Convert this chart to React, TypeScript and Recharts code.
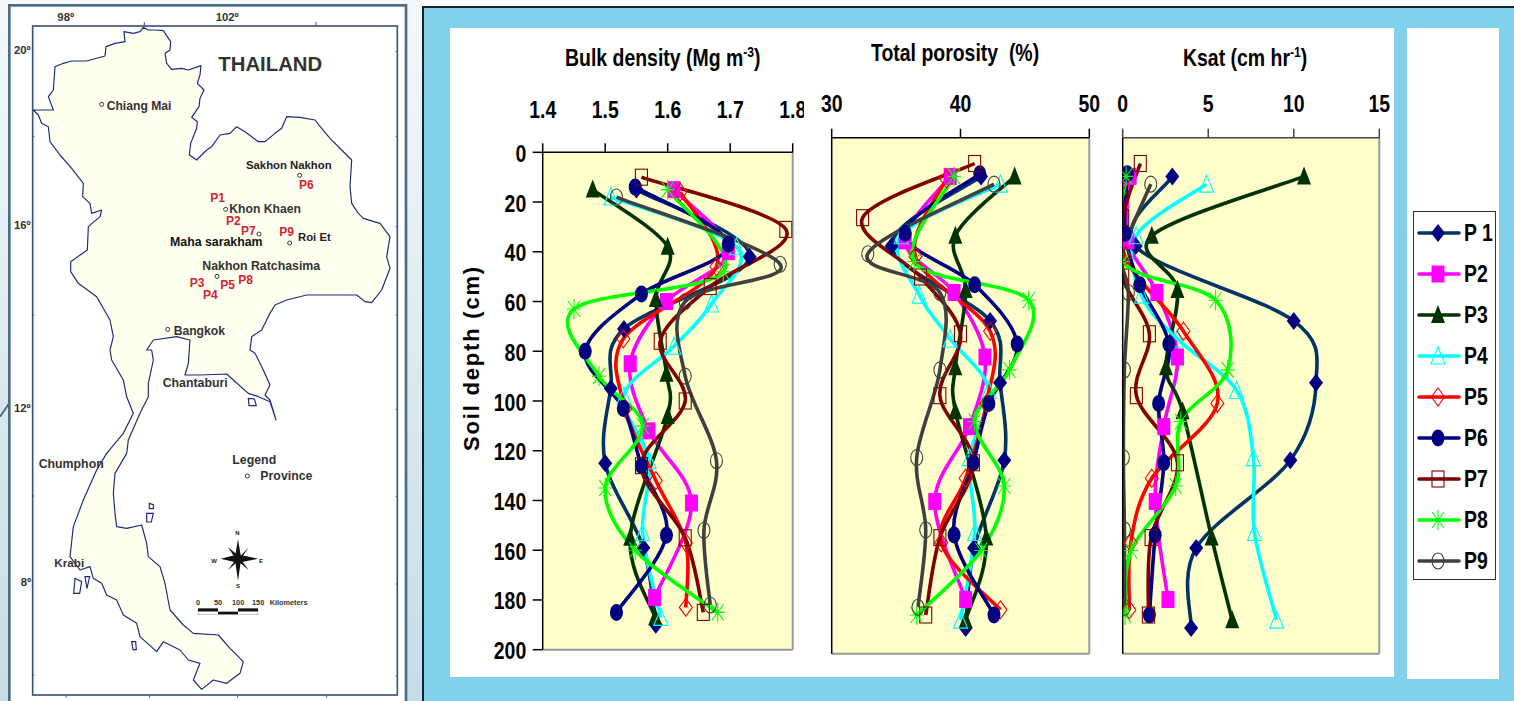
import React from "react";
import { LineChart, Line, XAxis, YAxis, CartesianGrid, ReferenceLine } from "recharts";

// ---------- data ----------
const seriesNames = ["P 1", "P2", "P3", "P4", "P5", "P6", "P7", "P8", "P9"];
const seriesColors = ["#003366", "#FF00FF", "#003300", "#00FFFF", "#FF0000", "#000080", "#800000", "#00FF00", "#404040"];

const depthP1 = [15, 42, 71, 95, 125, 159, 190];
const depthP2 = [15, 40, 60, 85, 112, 141, 179];
const depthP3 = [15, 38, 59, 89, 106, 155, 187];
const depthP4 = [18, 38, 61, 78, 98, 124, 153, 187];
const depthP5 = [16, 46, 75, 103, 132, 157, 183];
const depthP6 = [14, 37, 57, 80, 103, 126, 154, 185];
const depthP7 = [10, 31, 54, 76, 100, 126, 155, 185];
const depthP8 = [15, 48, 63, 90, 110, 135, 160, 185];
const depthP9 = [18, 45, 60, 90, 124, 152, 182];
const depths = [depthP1, depthP2, depthP3, depthP4, depthP5, depthP6, depthP7, depthP8, depthP9];

const bulkDensity = [
  [1.55, 1.731, 1.53, 1.509, 1.5, 1.561, 1.581],
  [1.61, 1.697, 1.598, 1.54, 1.57, 1.638, 1.579],
  [1.48, 1.6, 1.581, 1.598, 1.6, 1.54, 1.58],
  [1.509, 1.71, 1.67, 1.61, 1.53, 1.57, 1.56, 1.589],
  [1.62, 1.678, 1.529, 1.532, 1.581, 1.629, 1.629],
  [1.548, 1.697, 1.558, 1.468, 1.529, 1.558, 1.598, 1.518],
  [1.558, 1.789, 1.668, 1.588, 1.628, 1.558, 1.628, 1.657],
  [1.6, 1.689, 1.45, 1.49, 1.56, 1.5, 1.548, 1.68],
  [1.518, 1.78, 1.628, 1.628, 1.678, 1.658, 1.668],
];
const totalPorosity = [
  [41.6, 34.66, 42.3, 43.07, 43.4, 41.05, 40.4],
  [39.2, 35.7, 39.5, 41.9, 40.7, 38.0, 40.4],
  [44.2, 39.6, 40.4, 39.6, 39.6, 42, 40.4],
  [43.1, 35.4, 36.8, 39.2, 42.2, 40.7, 41.1, 40],
  [38.9, 36.5, 42.3, 42, 40.4, 38.5, 43.1],
  [41.5, 35.7, 41.1, 44.4, 42.2, 41, 39.5, 42.6],
  [41.1, 32.4, 36.9, 40, 38.4, 41, 38.4, 37.3],
  [39.5, 36.4, 45.3, 43.8, 41.1, 43.4, 41.6, 36.6],
  [42.6, 32.8, 38.4, 38.4, 36.6, 37.3, 36.7],
];
const ksat = [
  [2.9, 0.76, 10, 11.3, 9.8, 4.3, 4.0],
  [0.43, 0.3, 2, 3.2, 2.4, 1.9, 2.65],
  [10.6, 1.7, 3.2, 2.53, 3.5, 5.2, 6.4],
  [4.9, 0.78, 1.1, 3.2, 6.66, 7.64, 7.7, 9],
  [0.08, 0.14, 3.55, 5.53, 1.7, 0.47, 0.39],
  [0.27, 0.14, 1, 2.7, 2.1, 2.4, 1.9, 1.56],
  [1.03, 0, 0, 1.56, 0.8, 3.2, 1.66, 1.5],
  [0.2, 0, 5.43, 6.14, 3.4, 3.1, 0.49, 0.14],
  [1.64, 0, 0.33, 0.1, 0.04, 0.1, 0.1],
];
const depthTicks = [0, 20, 40, 60, 80, 100, 120, 140, 160, 180, 200];
const bulkTicks = [1.4, 1.5, 1.6, 1.7, 1.8];
const porosityTicks = [30, 40, 50];
const ksatTicks = [0, 5, 10, 15];

// map outline, in the coordinates of the map drawing
const mapOutline = [
  [400,100],[420,95],[430,82],[445,90],[465,90],[490,92],[512,125],[510,150],[495,160],[500,190],[515,208],[545,205],[565,210],[603,197],[600,225],[592,250],[612,270],[600,295],[597,320],[575,352],[592,365],[590,385],[572,430],[568,465],[590,480],[620,450],[635,440],[660,405],[690,400],[710,380],[735,395],[775,425],[795,425],[825,400],[845,385],[860,350],[900,352],[945,360],[965,385],[990,415],[1025,450],[1055,480],[1050,560],[1055,610],[1075,640],[1090,655],[1140,670],[1170,710],[1160,770],[1170,805],[1145,870],[1115,908],[1095,905],[1070,885],[920,885],[860,900],[825,915],[810,940],[785,990],[755,1010],[750,1050],[765,1060],[790,1110],[810,1155],[795,1185],[810,1200],[828,1260],[810,1205],[775,1190],[745,1180],[700,1140],[680,1122],[600,1125],[555,1125],[565,1090],[570,1020],[530,1010],[460,1020],[440,1050],[455,1050],[460,1080],[445,1150],[445,1190],[420,1240],[385,1320],[380,1360],[345,1420],[340,1480],[345,1540],[350,1580],[380,1585],[425,1575],[440,1630],[445,1670],[480,1700],[495,1750],[510,1830],[550,1875],[580,1900],[655,1905],[690,1945],[730,1985],[720,2020],[680,2050],[640,2040],[605,2068],[580,2040],[600,1990],[565,1980],[540,1950],[490,1925],[470,1955],[420,1910],[410,1870],[370,1845],[350,1800],[320,1785],[305,1750],[280,1735],[270,1700],[240,1710],[210,1670],[220,1580],[250,1500],[290,1410],[320,1360],[370,1300],[400,1240],[380,1190],[370,1140],[335,1080],[330,1050],[340,1010],[330,960],[290,890],[235,850],[212,815],[212,785],[262,750],[265,680],[300,650],[305,630],[275,640],[270,610],[248,590],[250,550],[215,505],[180,465],[150,425],[145,380],[125,370],[115,345],[100,330],[160,330],[145,290],[160,270],[165,200],[190,190],[215,183],[260,183],[315,168],[318,140],[345,130],[375,125],[372,95],
];
const mapLabels: [string, number, number, number, string, number][] = [
  ["THAILAND", 655, 212, 61, "#333", 700],
  ["Chiang Mai", 320, 330, 36.5, "#333", 600],
  ["Sakhon Nakhon", 738, 506, 34, "#222", 600],
  ["Khon Khaen", 688, 638, 36.5, "#333", 600],
  ["Maha sarakham", 510, 738, 37, "#111", 700],
  ["Roi Et", 894, 723, 34, "#222", 600],
  ["Nakhon Ratchasima", 607, 809, 37, "#333", 600],
  ["Bangkok", 521, 1005, 36.5, "#333", 600],
  ["Chantaburi", 488, 1160, 37, "#333", 600],
  ["Chumphon", 116, 1405, 37, "#333", 600],
  ["Krabi", 163, 1700, 35, "#333", 600],
  ["Legend", 697, 1391, 37, "#333", 700],
  ["Province", 781, 1440, 37, "#333", 700],
  ["98º", 172, 62, 34, "#333", 700],
  ["102º", 647, 62, 34, "#333", 700],
  ["20º", 42, 163, 34, "#333", 700],
  ["16º", 42, 687, 34, "#333", 700],
  ["12º", 42, 1235, 34, "#333", 700],
  ["8º", 62, 1759, 34, "#333", 700],
  ["0", 588, 1816, 22, "#333", 700],
  ["50", 642, 1816, 22, "#333", 700],
  ["100", 696, 1816, 22, "#333", 700],
  ["150", 756, 1816, 22, "#333", 700],
  ["Kilometers", 809, 1816, 22, "#333", 700],
  ["N", 706, 1604, 18, "#222", 700],
  ["S", 708, 1764, 18, "#222", 700],
  ["W", 634, 1688, 18, "#222", 700],
  ["E", 777, 1690, 18, "#222", 700],
];
const siteLabels: [string, number, number][] = [
  ["P1", 631, 605], ["P2", 678, 674], ["P7", 723, 706], ["P9", 838, 708],
  ["P6", 897, 568], ["P3", 569, 861], ["P4", 609, 897], ["P5", 661, 868], ["P8", 715, 851],
];
const provinceDots = [[305,313],[677,628],[777,702],[869,729],[899,526],[651,829],[503,988],[742,1428]];

// ---------- helpers ----------
const FONT = "'Liberation Sans', Arial, sans-serif";
const NARROW = 0.81;

const smoothCurve = (context: any) => {
  let pts: number[][] = [];
  return {
    areaStart() {},
    areaEnd() {},
    lineStart() { pts = []; },
    point(x: number, y: number) { pts.push([+x, +y]); },
    lineEnd() {
      if (!pts.length) return;
      context.moveTo(pts[0][0], pts[0][1]);
      for (let i = 0; i < pts.length - 1; i++) {
        const p0 = pts[Math.max(0, i - 1)], p1 = pts[i], p2 = pts[i + 1], p3 = pts[Math.min(pts.length - 1, i + 2)];
        context.bezierCurveTo(
          p1[0] + (p2[0] - p0[0]) / 6, p1[1] + (p2[1] - p0[1]) / 6,
          p2[0] - (p3[0] - p1[0]) / 6, p2[1] - (p3[1] - p1[1]) / 6,
          p2[0], p2[1]
        );
      }
    },
  };
};

function Marker({ i, cx, cy }: { i: number; cx: number; cy: number }) {
  const c = i === 0 ? "#000080" : seriesColors[i];
  const hollow = { fill: "none", stroke: c, strokeWidth: 1.1 };
  const solid = { fill: c, stroke: "none" };
  switch (i) {
    case 0: return <path d={`M${cx} ${cy - 9}L${cx + 7} ${cy}L${cx} ${cy + 9}L${cx - 7} ${cy}Z`} {...solid} />;
    case 1: return <rect x={cx - 6.5} y={cy - 8.5} width={13} height={17} {...solid} />;
    case 2: return <path d={`M${cx} ${cy - 10}L${cx + 7} ${cy + 8}L${cx - 7} ${cy + 8}Z`} {...solid} />;
    case 3: return <path d={`M${cx} ${cy - 9}L${cx + 7} ${cy + 8}L${cx - 7} ${cy + 8}Z`} {...hollow} />;
    case 4: return <path d={`M${cx} ${cy - 9}L${cx + 6.5} ${cy}L${cx} ${cy + 9}L${cx - 6.5} ${cy}Z`} {...hollow} />;
    case 5: return <ellipse cx={cx} cy={cy} rx={6.5} ry={8.5} {...solid} />;
    case 6: return <rect x={cx - 6} y={cy - 8} width={12} height={16} {...hollow} />;
    case 7: return (
      <path
        d={`M${cx - 6} ${cy - 8}L${cx + 6} ${cy + 8}M${cx + 6} ${cy - 8}L${cx - 6} ${cy + 8}M${cx} ${cy - 10}V${cy + 10}M${cx - 7} ${cy}H${cx + 7}`}
        fill="none" stroke={c} strokeWidth={1.1}
      />
    );
    default: return <ellipse cx={cx} cy={cy} rx={6} ry={8} {...hollow} />;
  }
}

const seriesRows = (vals: number[][], i: number) =>
  depths[i].map((depth, k) => ({ depth, value: vals[i][k] }));

const makeTick = (anchor: "middle" | "end", dy: number, fmt?: (v: number) => string) => (t: any) => (
  <text
    transform={`translate(${t.x},${t.y + dy}) scale(${NARROW},1)`}
    textAnchor={anchor}
    fontFamily={FONT}
    fontWeight={700}
    fontSize={24}
    fill="#000"
  >
    {fmt ? fmt(t.payload.value) : t.payload.value}
  </text>
);

type PanelProps = {
  left: number; top: number; width: number; height: number;
  plotLeft: number; plotTop: number; plotRight: number; plotBottom: number;
  values: number[][]; xDomain: number[]; xTicks: number[]; tickMargin: number; showY: boolean; axisColor: string;
  fmt?: (v: number) => string;
};

function Panel(p: PanelProps) {
  const X_H = 30, Y_W = 40;
  return (
    <div style={{ position: "absolute", left: p.left, top: p.top }}>
      <LineChart
        layout="vertical"
        width={p.width}
        height={p.height}
        margin={{
          top: p.plotTop - p.top - X_H,
          left: p.plotLeft - p.left - Y_W,
          right: p.left + p.width - p.plotRight,
          bottom: p.top + p.height - p.plotBottom,
        }}
      >
        <CartesianGrid fill="#FFFFCC" horizontal={false} vertical={false} />
        <XAxis
          type="number" orientation="top" xAxisId={0} height={X_H}
          domain={p.xDomain} ticks={p.xTicks} interval={0} allowDataOverflow
          stroke={p.axisColor} strokeWidth={1.5} tickSize={9} tickMargin={p.tickMargin}
          tick={makeTick("middle", 0, p.fmt)}
        />
        <YAxis
          type="number" dataKey="depth" yAxisId={0} width={Y_W}
          domain={[0, 200]} ticks={depthTicks} interval={0} allowDataOverflow
          stroke="#000" strokeWidth={1.5} tickSize={p.showY ? 10 : 6} tickMargin={6.5}
          tick={p.showY ? makeTick("end", 9.5) : false}
        />
        <ReferenceLine x={p.xDomain[1]} stroke="#999" strokeWidth={2} />
        <ReferenceLine y={200} stroke="#999" strokeWidth={2} />
        {seriesNames.map((name, i) => (
          <Line
            key={name}
            name={name}
            data={seriesRows(p.values, i)}
            dataKey="value"
            type={smoothCurve as any}
            stroke={seriesColors[i]}
            strokeWidth={3.6}
            isAnimationActive={false}
            activeDot={false}
            dot={(d: any) => <Marker key={d.key ?? d.index} i={i} cx={d.cx} cy={d.cy} />}
          />
        ))}
      </LineChart>
    </div>
  );
}

function ThaiMap() {
  const poly = mapOutline.map((q) => q.join(",")).join(" ");
  return (
    <svg width={1514} height={701} viewBox="0 0 4542 2103" style={{ position: "absolute", left: 0, top: 0 }}>
      <defs>
        <linearGradient id="slideBg" x1="0" y1="0" x2="0" y2="1">
          <stop offset="0" stopColor="#F4F8FA" />
          <stop offset="1" stopColor="#C6DCE5" />
        </linearGradient>
      </defs>
      <rect x={0} y={0} width={1266} height={2103} fill="url(#slideBg)" />
      <path d="M0 1250L26 1212" stroke="#4A6E82" strokeWidth={6} fill="none" />
      <rect x={28} y={16} width={1190} height={2120} fill="#fff" stroke="#4A6E82" strokeWidth={8} />
      <rect x={98} y={78} width={1094} height={2007} fill="#fff" stroke="#3E5578" strokeWidth={5} />
      <polygon points={poly} fill="#FFFFF0" stroke="#1B2A7A" strokeWidth={3.5} strokeLinejoin="round" />
      <path d="M745 1195l18 2 6 20-22 0zM448 1510l12 4 0 12-12 0zM440 1540l20 0-6 26-14 0zM395 1925l12 0 2 24-10 0zM225 1735l20 10-6 35-18 0zM255 1730l14 0-8 35z"
        fill="#fff" stroke="#1B2A7A" strokeWidth={3.5} />
      {mapLabels.map(([t, x, y, s, c, w]) => (
        <text key={t} x={x} y={y} fontSize={s} fill={c} fontWeight={w} fontFamily={FONT}>{t}</text>
      ))}
      {siteLabels.map(([t, x, y]) => (
        <text key={t} x={x} y={y} fontSize={36} fill="#D22630" fontWeight={700} fontFamily={FONT}>{t}</text>
      ))}
      {provinceDots.map(([x, y]) => (
        <circle key={`${x}-${y}`} cx={x} cy={y} r={6} fill="#fff" stroke="#333" strokeWidth={3} />
      ))}
      <g transform="translate(0,50)">
        <path d="M714 1568L722 1615L775 1626L722 1637L714 1692L706 1637L662 1626L706 1615Z" fill="#111" />
        <path d="M684 1592L720 1620L746 1592L722 1628L746 1660L714 1634L684 1660L708 1628Z" fill="#111" />
      </g>
      <rect x={594} y={1825} width={60} height={10} fill="#111" />
      <rect x={654} y={1835} width={60} height={9} fill="#111" />
      <rect x={714} y={1825} width={60} height={10} fill="#111" />
      <rect x={594} y={1835} width={180} height={9} fill="none" stroke="#aaa" strokeWidth={2} />
      <path d="M433 78V66M948 78V66M1192 155h-5M1192 410h-5M1192 680h-5M1192 945h-5M1192 1228h-5M1192 1490h-5M1192 1752h-5M1192 2028h-5M98 410h5M98 945h5M98 1488h5M98 2025h5M198 2085v8M448 2085v8M713 2085v8M980 2085v8"
        stroke="#3E5578" strokeWidth={3} fill="none" />
    </svg>
  );
}

function ChartTitle({ x, y, children }: { x: number; y: number; children: React.ReactNode }) {
  return (
    <div style={{
      position: "absolute", left: x, top: y, whiteSpace: "pre", fontFamily: FONT, fontWeight: 700, fontSize: 24,
      lineHeight: "28px", color: "#000", transform: `scaleX(${NARROW})`, transformOrigin: "0 50%",
    }}>
      {children}
    </div>
  );
}

function SeriesLegend() {
  return (
    <div style={{ position: "absolute", left: 1413, top: 211, width: 83, height: 369, boxSizing: "border-box", border: "1px solid #333", background: "#fff" }}>
      {seriesNames.map((name, i) => (
        <div key={name} style={{ position: "absolute", left: 0, top: 21 + 41 * i - 15, height: 30, width: 81 }}>
          <svg width={50} height={30} style={{ position: "absolute", left: 0, top: 0 }}>
            <line x1={5} y1={15} x2={45} y2={15} stroke={seriesColors[i]} strokeWidth={3.6} strokeLinecap="round" />
            <Marker i={i} cx={24} cy={15} />
          </svg>
          <span style={{
            position: "absolute", left: 50, top: 1, fontFamily: FONT, fontWeight: 700, fontSize: 24, lineHeight: "28px",
            whiteSpace: "pre", transform: `scaleX(${NARROW})`, transformOrigin: "0 50%",
          }}>{name}</span>
        </div>
      ))}
    </div>
  );
}

export default function App() {
  return (
    <div style={{ position: "absolute", left: 0, top: 0, width: 1514, height: 701, overflow: "hidden", background: "#fff" }}>
      <ThaiMap />
      <div style={{ position: "absolute", left: 422, top: 6, width: 1092, height: 695, background: "#80D1E9", borderLeft: "2px solid #123", borderTop: "2px solid #123", boxSizing: "border-box" }} />
      <div style={{ position: "absolute", left: 450, top: 28, width: 944, height: 649, background: "#fff" }} />
      <div style={{ position: "absolute", left: 1407, top: 28, width: 92, height: 651, background: "#fff" }} />

      <Panel left={450} top={30} width={354} height={640} plotLeft={542.7} plotTop={152.3} plotRight={792.7} plotBottom={649.7}
        values={bulkDensity} xDomain={[1.4, 1.8]} xTicks={bulkTicks} tickMargin={25} showY axisColor="#000" fmt={(v) => v.toFixed(1)} />
      <Panel left={812} top={30} width={290} height={640} plotLeft={831.7} plotTop={137.7} plotRight={1089.3} plotBottom={653.7}
        values={totalPorosity} xDomain={[30, 50]} xTicks={porosityTicks} tickMargin={17} showY={false} axisColor="#000" />
      <Panel left={1103} top={30} width={290} height={640} plotLeft={1122.7} plotTop={137.7} plotRight={1379.3} plotBottom={653.7}
        values={ksat} xDomain={[0, 15]} xTicks={ksatTicks} tickMargin={17} showY={false} axisColor="#444" />

      <ChartTitle x={565} y={44}>Bulk density (Mg m<sup style={{ fontSize: 15, lineHeight: 0 }}>-3</sup>)</ChartTitle>
      <ChartTitle x={871} y={39}>{"Total porosity  (%)"}</ChartTitle>
      <ChartTitle x={1183} y={44}>Ksat (cm hr<sup style={{ fontSize: 15, lineHeight: 0 }}>-1</sup>)</ChartTitle>
      <div style={{
        position: "absolute", left: 472, top: 358, transform: "translate(-50%,-50%) rotate(-90deg)",
        whiteSpace: "pre", fontFamily: FONT, fontWeight: 700, fontSize: 22, letterSpacing: 1.8, color: "#000",
      }}>Soil depth (cm)</div>

      <SeriesLegend />
    </div>
  );
}
